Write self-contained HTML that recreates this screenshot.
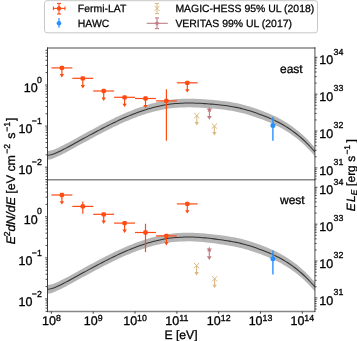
<!DOCTYPE html><html><head><meta charset="utf-8"><style>
html,body{margin:0;padding:0;background:#fff;width:357px;height:341px;overflow:hidden}
svg{display:block;font-family:"Liberation Sans",sans-serif;will-change:transform;-webkit-font-smoothing:antialiased;text-rendering:geometricPrecision}
</style></head><body>
<svg width="357" height="341" viewBox="0 0 357 341">
<rect width="357" height="341" fill="#fff"/>
<path d="M47.50,150.95 L49.75,150.80 L51.99,150.28 L54.24,149.48 L56.48,148.51 L58.73,147.46 L60.98,146.37 L63.22,145.24 L65.47,144.08 L67.72,142.89 L69.96,141.68 L72.21,140.46 L74.45,139.22 L76.70,137.98 L78.95,136.74 L81.19,135.50 L83.44,134.27 L85.69,133.04 L87.93,131.81 L90.18,130.59 L92.42,129.38 L94.67,128.17 L96.92,126.98 L99.16,125.79 L101.41,124.62 L103.66,123.45 L105.90,122.31 L108.15,121.17 L110.39,120.06 L112.64,118.95 L114.89,117.87 L117.13,116.81 L119.38,115.76 L121.63,114.74 L123.87,113.74 L126.12,112.76 L128.36,111.81 L130.61,110.88 L132.86,109.98 L135.10,109.11 L137.35,108.26 L139.59,107.44 L141.84,106.66 L144.09,105.91 L146.33,105.18 L148.58,104.50 L150.83,103.85 L153.07,103.23 L155.32,102.65 L157.56,102.11 L159.81,101.61 L162.06,101.15 L164.30,100.73 L166.55,100.35 L168.80,100.02 L171.04,99.73 L173.29,99.48 L175.53,99.27 L177.78,99.10 L180.03,98.96 L182.27,98.85 L184.52,98.78 L186.77,98.74 L189.01,98.73 L191.26,98.74 L193.50,98.78 L195.75,98.85 L198.00,98.93 L200.24,99.04 L202.49,99.17 L204.74,99.31 L206.98,99.47 L209.23,99.64 L211.47,99.82 L213.72,100.02 L215.97,100.22 L218.21,100.45 L220.46,100.69 L222.71,100.94 L224.95,101.23 L227.20,101.53 L229.44,101.87 L231.69,102.24 L233.94,102.64 L236.18,103.07 L238.43,103.55 L240.67,104.07 L242.92,104.63 L245.17,105.24 L247.41,105.88 L249.66,106.57 L251.91,107.29 L254.15,108.03 L256.40,108.80 L258.64,109.59 L260.89,110.41 L263.14,111.25 L265.38,112.13 L267.63,113.04 L269.88,113.99 L272.12,114.98 L274.37,116.02 L276.61,117.11 L278.86,118.26 L281.11,119.46 L283.35,120.73 L285.60,122.07 L287.85,123.48 L290.09,124.97 L292.34,126.53 L294.58,128.18 L296.83,129.92 L299.08,131.75 L301.32,133.68 L303.57,135.70 L305.82,137.84 L308.06,140.08 L310.31,142.44 L312.55,144.93 L314.80,147.40 L314.80,156.00 L312.55,153.53 L310.31,151.04 L308.06,148.68 L305.82,146.44 L303.57,144.30 L301.32,142.28 L299.08,140.35 L296.83,138.52 L294.58,136.78 L292.34,135.13 L290.09,133.57 L287.85,132.08 L285.60,130.67 L283.35,129.33 L281.11,128.06 L278.86,126.86 L276.61,125.71 L274.37,124.62 L272.12,123.58 L269.88,122.59 L267.63,121.64 L265.38,120.73 L263.14,119.85 L260.89,119.01 L258.64,118.19 L256.40,117.40 L254.15,116.63 L251.91,115.89 L249.66,115.17 L247.41,114.48 L245.17,113.84 L242.92,113.23 L240.67,112.67 L238.43,112.15 L236.18,111.67 L233.94,111.24 L231.69,110.84 L229.44,110.47 L227.20,110.13 L224.95,109.83 L222.71,109.54 L220.46,109.29 L218.21,109.05 L215.97,108.82 L213.72,108.62 L211.47,108.42 L209.23,108.24 L206.98,108.07 L204.74,107.91 L202.49,107.77 L200.24,107.64 L198.00,107.53 L195.75,107.45 L193.50,107.38 L191.26,107.34 L189.01,107.33 L186.77,107.34 L184.52,107.38 L182.27,107.45 L180.03,107.56 L177.78,107.70 L175.53,107.87 L173.29,108.08 L171.04,108.33 L168.80,108.62 L166.55,108.95 L164.30,109.33 L162.06,109.75 L159.81,110.21 L157.56,110.71 L155.32,111.25 L153.07,111.83 L150.83,112.45 L148.58,113.10 L146.33,113.78 L144.09,114.51 L141.84,115.26 L139.59,116.04 L137.35,116.86 L135.10,117.71 L132.86,118.58 L130.61,119.48 L128.36,120.41 L126.12,121.36 L123.87,122.34 L121.63,123.34 L119.38,124.36 L117.13,125.41 L114.89,126.47 L112.64,127.55 L110.39,128.66 L108.15,129.77 L105.90,130.91 L103.66,132.05 L101.41,133.22 L99.16,134.39 L96.92,135.58 L94.67,136.77 L92.42,137.98 L90.18,139.19 L87.93,140.41 L85.69,141.64 L83.44,142.87 L81.19,144.10 L78.95,145.34 L76.70,146.58 L74.45,147.82 L72.21,149.06 L69.96,150.28 L67.72,151.49 L65.47,152.68 L63.22,153.84 L60.98,154.97 L58.73,156.06 L56.48,157.11 L54.24,158.08 L51.99,158.88 L49.75,159.40 L47.50,159.55 Z" fill="#b5b5b5"/>
<path d="M47.50,155.25 L49.75,155.10 L51.99,154.58 L54.24,153.78 L56.48,152.81 L58.73,151.76 L60.98,150.67 L63.22,149.54 L65.47,148.38 L67.72,147.19 L69.96,145.98 L72.21,144.76 L74.45,143.52 L76.70,142.28 L78.95,141.04 L81.19,139.80 L83.44,138.57 L85.69,137.34 L87.93,136.11 L90.18,134.89 L92.42,133.68 L94.67,132.47 L96.92,131.28 L99.16,130.09 L101.41,128.92 L103.66,127.75 L105.90,126.61 L108.15,125.47 L110.39,124.36 L112.64,123.25 L114.89,122.17 L117.13,121.11 L119.38,120.06 L121.63,119.04 L123.87,118.04 L126.12,117.06 L128.36,116.11 L130.61,115.18 L132.86,114.28 L135.10,113.41 L137.35,112.56 L139.59,111.74 L141.84,110.96 L144.09,110.21 L146.33,109.48 L148.58,108.80 L150.83,108.15 L153.07,107.53 L155.32,106.95 L157.56,106.41 L159.81,105.91 L162.06,105.45 L164.30,105.03 L166.55,104.65 L168.80,104.32 L171.04,104.03 L173.29,103.78 L175.53,103.57 L177.78,103.40 L180.03,103.26 L182.27,103.15 L184.52,103.08 L186.77,103.04 L189.01,103.03 L191.26,103.04 L193.50,103.08 L195.75,103.15 L198.00,103.23 L200.24,103.34 L202.49,103.47 L204.74,103.61 L206.98,103.77 L209.23,103.94 L211.47,104.12 L213.72,104.32 L215.97,104.52 L218.21,104.75 L220.46,104.99 L222.71,105.24 L224.95,105.53 L227.20,105.83 L229.44,106.17 L231.69,106.54 L233.94,106.94 L236.18,107.37 L238.43,107.85 L240.67,108.37 L242.92,108.93 L245.17,109.54 L247.41,110.18 L249.66,110.87 L251.91,111.59 L254.15,112.33 L256.40,113.10 L258.64,113.89 L260.89,114.71 L263.14,115.55 L265.38,116.43 L267.63,117.34 L269.88,118.29 L272.12,119.28 L274.37,120.32 L276.61,121.41 L278.86,122.56 L281.11,123.76 L283.35,125.03 L285.60,126.37 L287.85,127.78 L290.09,129.27 L292.34,130.83 L294.58,132.48 L296.83,134.22 L299.08,136.05 L301.32,137.98 L303.57,140.00 L305.82,142.14 L308.06,144.38 L310.31,146.74 L312.55,149.23 L314.80,151.70" fill="none" stroke="#333" stroke-width="1.05"/>
<path d="M47.50,284.95 L49.75,284.80 L51.99,284.28 L54.24,283.48 L56.48,282.51 L58.73,281.46 L60.98,280.37 L63.22,279.24 L65.47,278.08 L67.72,276.89 L69.96,275.68 L72.21,274.46 L74.45,273.22 L76.70,271.98 L78.95,270.74 L81.19,269.50 L83.44,268.27 L85.69,267.04 L87.93,265.81 L90.18,264.59 L92.42,263.38 L94.67,262.17 L96.92,260.98 L99.16,259.79 L101.41,258.62 L103.66,257.45 L105.90,256.31 L108.15,255.17 L110.39,254.06 L112.64,252.95 L114.89,251.87 L117.13,250.81 L119.38,249.76 L121.63,248.74 L123.87,247.74 L126.12,246.76 L128.36,245.81 L130.61,244.88 L132.86,243.98 L135.10,243.11 L137.35,242.26 L139.59,241.44 L141.84,240.66 L144.09,239.91 L146.33,239.18 L148.58,238.50 L150.83,237.85 L153.07,237.23 L155.32,236.65 L157.56,236.11 L159.81,235.61 L162.06,235.15 L164.30,234.73 L166.55,234.35 L168.80,234.02 L171.04,233.73 L173.29,233.48 L175.53,233.27 L177.78,233.10 L180.03,232.96 L182.27,232.85 L184.52,232.78 L186.77,232.74 L189.01,232.73 L191.26,232.74 L193.50,232.79 L195.75,232.88 L198.00,232.99 L200.24,233.13 L202.49,233.30 L204.74,233.49 L206.98,233.69 L209.23,233.91 L211.47,234.15 L213.72,234.40 L215.97,234.66 L218.21,234.93 L220.46,235.21 L222.71,235.52 L224.95,235.84 L227.20,236.18 L229.44,236.54 L231.69,236.93 L233.94,237.34 L236.18,237.77 L238.43,238.25 L240.67,238.77 L242.92,239.33 L245.17,239.94 L247.41,240.58 L249.66,241.27 L251.91,241.99 L254.15,242.73 L256.40,243.50 L258.64,244.29 L260.89,245.11 L263.14,245.95 L265.38,246.83 L267.63,247.74 L269.88,248.69 L272.12,249.68 L274.37,250.72 L276.61,251.81 L278.86,252.96 L281.11,254.16 L283.35,255.43 L285.60,256.77 L287.85,258.18 L290.09,259.67 L292.34,261.23 L294.58,262.88 L296.83,264.62 L299.08,266.45 L301.32,268.38 L303.57,270.40 L305.82,272.54 L308.06,274.78 L310.31,277.14 L312.55,279.63 L314.80,282.10 L314.80,291.30 L312.55,288.83 L310.31,286.34 L308.06,283.98 L305.82,281.74 L303.57,279.60 L301.32,277.58 L299.08,275.65 L296.83,273.82 L294.58,272.08 L292.34,270.43 L290.09,268.87 L287.85,267.38 L285.60,265.97 L283.35,264.63 L281.11,263.36 L278.86,262.16 L276.61,261.01 L274.37,259.92 L272.12,258.88 L269.88,257.89 L267.63,256.94 L265.38,256.03 L263.14,255.15 L260.89,254.31 L258.64,253.49 L256.40,252.70 L254.15,251.93 L251.91,251.19 L249.66,250.47 L247.41,249.78 L245.17,249.14 L242.92,248.53 L240.67,247.97 L238.43,247.45 L236.18,246.97 L233.94,246.53 L231.69,246.12 L229.44,245.72 L227.20,245.33 L224.95,244.96 L222.71,244.61 L220.46,244.27 L218.21,243.94 L215.97,243.62 L213.72,243.32 L211.47,243.03 L209.23,242.75 L206.98,242.48 L204.74,242.24 L202.49,242.01 L200.24,241.81 L198.00,241.64 L195.75,241.51 L193.50,241.41 L191.26,241.35 L189.01,241.33 L186.77,241.34 L184.52,241.38 L182.27,241.45 L180.03,241.56 L177.78,241.70 L175.53,241.87 L173.29,242.08 L171.04,242.33 L168.80,242.62 L166.55,242.95 L164.30,243.33 L162.06,243.75 L159.81,244.21 L157.56,244.71 L155.32,245.25 L153.07,245.83 L150.83,246.45 L148.58,247.10 L146.33,247.78 L144.09,248.51 L141.84,249.26 L139.59,250.04 L137.35,250.86 L135.10,251.71 L132.86,252.58 L130.61,253.48 L128.36,254.41 L126.12,255.36 L123.87,256.34 L121.63,257.34 L119.38,258.36 L117.13,259.41 L114.89,260.47 L112.64,261.55 L110.39,262.66 L108.15,263.77 L105.90,264.91 L103.66,266.05 L101.41,267.22 L99.16,268.39 L96.92,269.58 L94.67,270.77 L92.42,271.98 L90.18,273.19 L87.93,274.41 L85.69,275.64 L83.44,276.87 L81.19,278.10 L78.95,279.34 L76.70,280.58 L74.45,281.82 L72.21,283.06 L69.96,284.28 L67.72,285.49 L65.47,286.68 L63.22,287.84 L60.98,288.97 L58.73,290.06 L56.48,291.11 L54.24,292.08 L51.99,292.88 L49.75,293.40 L47.50,293.55 Z" fill="#b5b5b5"/>
<path d="M47.50,289.25 L49.75,289.10 L51.99,288.58 L54.24,287.78 L56.48,286.81 L58.73,285.76 L60.98,284.67 L63.22,283.54 L65.47,282.38 L67.72,281.19 L69.96,279.98 L72.21,278.76 L74.45,277.52 L76.70,276.28 L78.95,275.04 L81.19,273.80 L83.44,272.57 L85.69,271.34 L87.93,270.11 L90.18,268.89 L92.42,267.68 L94.67,266.47 L96.92,265.28 L99.16,264.09 L101.41,262.92 L103.66,261.75 L105.90,260.61 L108.15,259.47 L110.39,258.36 L112.64,257.25 L114.89,256.17 L117.13,255.11 L119.38,254.06 L121.63,253.04 L123.87,252.04 L126.12,251.06 L128.36,250.11 L130.61,249.18 L132.86,248.28 L135.10,247.41 L137.35,246.56 L139.59,245.74 L141.84,244.96 L144.09,244.21 L146.33,243.48 L148.58,242.80 L150.83,242.15 L153.07,241.53 L155.32,240.95 L157.56,240.41 L159.81,239.91 L162.06,239.45 L164.30,239.03 L166.55,238.65 L168.80,238.32 L171.04,238.03 L173.29,237.78 L175.53,237.57 L177.78,237.40 L180.03,237.26 L182.27,237.15 L184.52,237.08 L186.77,237.04 L189.01,237.03 L191.26,237.04 L193.50,237.10 L195.75,237.19 L198.00,237.32 L200.24,237.47 L202.49,237.65 L204.74,237.86 L206.98,238.09 L209.23,238.33 L211.47,238.59 L213.72,238.86 L215.97,239.14 L218.21,239.43 L220.46,239.74 L222.71,240.06 L224.95,240.40 L227.20,240.75 L229.44,241.13 L231.69,241.52 L233.94,241.94 L236.18,242.37 L238.43,242.85 L240.67,243.37 L242.92,243.93 L245.17,244.54 L247.41,245.18 L249.66,245.87 L251.91,246.59 L254.15,247.33 L256.40,248.10 L258.64,248.89 L260.89,249.71 L263.14,250.55 L265.38,251.43 L267.63,252.34 L269.88,253.29 L272.12,254.28 L274.37,255.32 L276.61,256.41 L278.86,257.56 L281.11,258.76 L283.35,260.03 L285.60,261.37 L287.85,262.78 L290.09,264.27 L292.34,265.83 L294.58,267.48 L296.83,269.22 L299.08,271.05 L301.32,272.98 L303.57,275.00 L305.82,277.14 L308.06,279.38 L310.31,281.74 L312.55,284.23 L314.80,286.70" fill="none" stroke="#333" stroke-width="1.05"/>
<line x1="51.4" y1="67.9" x2="72.3" y2="67.9" stroke="#ff4a12" stroke-width="1.2"/><line x1="61.9" y1="67.9" x2="61.9" y2="74.89999999999999" stroke="#ff4a12" stroke-width="1.2"/><path d="M59.70,74.10 L64.10,74.10 L61.90,77.40 Z" fill="#ff4a12"/><rect x="59.70" y="65.75" width="4.4" height="4.3" rx="1.3" fill="#ff4a12"/>
<line x1="72.3" y1="78.3" x2="93.2" y2="78.3" stroke="#ff4a12" stroke-width="1.2"/><line x1="82.8" y1="78.3" x2="82.8" y2="85.89999999999999" stroke="#ff4a12" stroke-width="1.2"/><path d="M80.60,85.10 L85.00,85.10 L82.80,88.40 Z" fill="#ff4a12"/><rect x="80.60" y="76.15" width="4.4" height="4.3" rx="1.3" fill="#ff4a12"/>
<line x1="93.2" y1="91.0" x2="114.1" y2="91.0" stroke="#ff4a12" stroke-width="1.2"/><line x1="103.7" y1="91.0" x2="103.7" y2="98.39999999999999" stroke="#ff4a12" stroke-width="1.2"/><path d="M101.50,97.60 L105.90,97.60 L103.70,100.90 Z" fill="#ff4a12"/><rect x="101.50" y="88.85" width="4.4" height="4.3" rx="1.3" fill="#ff4a12"/>
<line x1="114.1" y1="97.3" x2="135.0" y2="97.3" stroke="#ff4a12" stroke-width="1.2"/><line x1="124.6" y1="97.3" x2="124.6" y2="104.5" stroke="#ff4a12" stroke-width="1.2"/><path d="M122.40,103.70 L126.80,103.70 L124.60,107.00 Z" fill="#ff4a12"/><rect x="122.40" y="95.15" width="4.4" height="4.3" rx="1.3" fill="#ff4a12"/>
<line x1="135.0" y1="98.5" x2="155.9" y2="98.5" stroke="#ff4a12" stroke-width="1.2"/><line x1="145.5" y1="98.5" x2="145.5" y2="105.69999999999999" stroke="#ff4a12" stroke-width="1.2"/><path d="M143.30,104.90 L147.70,104.90 L145.50,108.20 Z" fill="#ff4a12"/><rect x="143.30" y="96.35" width="4.4" height="4.3" rx="1.3" fill="#ff4a12"/>
<line x1="155.9" y1="100.9" x2="176.8" y2="100.9" stroke="#ff4a12" stroke-width="1.2"/><line x1="166.4" y1="89.2" x2="166.4" y2="140.7" stroke="#ff4a12" stroke-width="1.2"/><rect x="164.20" y="98.75" width="4.4" height="4.3" rx="1.3" fill="#ff4a12"/>
<line x1="176.8" y1="82.8" x2="197.7" y2="82.8" stroke="#ff4a12" stroke-width="1.2"/><line x1="187.3" y1="82.8" x2="187.3" y2="90.1" stroke="#ff4a12" stroke-width="1.2"/><path d="M185.10,89.30 L189.50,89.30 L187.30,92.60 Z" fill="#ff4a12"/><rect x="185.10" y="80.65" width="4.4" height="4.3" rx="1.3" fill="#ff4a12"/>
<g stroke="#dab883" stroke-width="1.0"><line x1="194.20000000000002" y1="113.0" x2="199.4" y2="118.19999999999999"/><line x1="194.20000000000002" y1="118.19999999999999" x2="199.4" y2="113.0"/><line x1="196.8" y1="115.6" x2="196.8" y2="123.0" stroke-width="1.1"/></g><path d="M194.60,122.10 L199.00,122.10 L196.80,125.50 Z" fill="#dab883"/>
<g stroke="#dab883" stroke-width="1.0"><line x1="211.8" y1="123.5" x2="217.0" y2="128.7"/><line x1="211.8" y1="128.7" x2="217.0" y2="123.5"/><line x1="214.4" y1="126.1" x2="214.4" y2="133.0" stroke-width="1.1"/></g><path d="M212.20,132.10 L216.60,132.10 L214.40,135.50 Z" fill="#dab883"/>
<line x1="209.4" y1="109.7" x2="209.4" y2="117.3" stroke="#c17c87" stroke-width="1.1"/><path d="M207.00,116.00 L211.80,116.00 L209.40,119.80 Z" fill="#c17c87"/><polygon points="209.40,106.60 210.22,108.57 212.35,108.74 210.73,110.13 211.22,112.21 209.40,111.09 207.58,112.21 208.07,110.13 206.45,108.74 208.58,108.57" fill="#c17c87"/>
<g stroke="#dab883" stroke-width="0.5" stroke-opacity="0.7"><line x1="271.59999999999997" y1="117.3" x2="271.59999999999997" y2="126.1"/><line x1="274.2" y1="117.3" x2="274.2" y2="126.1"/></g><line x1="272.9" y1="117.0" x2="272.9" y2="140.7" stroke="#2a90fc" stroke-width="1.4"/><circle cx="272.9" cy="125.6" r="2.5" fill="#2a90fc"/>
<line x1="51.4" y1="195.0" x2="72.3" y2="195.0" stroke="#ff4a12" stroke-width="1.2"/><line x1="61.9" y1="195.0" x2="61.9" y2="202.1" stroke="#ff4a12" stroke-width="1.2"/><path d="M59.70,201.30 L64.10,201.30 L61.90,204.60 Z" fill="#ff4a12"/><rect x="59.70" y="192.85" width="4.4" height="4.3" rx="1.3" fill="#ff4a12"/>
<line x1="72.3" y1="206.4" x2="93.2" y2="206.4" stroke="#ff4a12" stroke-width="1.2"/><line x1="82.8" y1="201.5" x2="82.8" y2="213.7" stroke="#ff4a12" stroke-width="1.2"/><rect x="80.60" y="204.25" width="4.4" height="4.3" rx="1.3" fill="#ff4a12"/>
<line x1="93.2" y1="214.3" x2="114.1" y2="214.3" stroke="#ff4a12" stroke-width="1.2"/><line x1="103.7" y1="214.3" x2="103.7" y2="221.4" stroke="#ff4a12" stroke-width="1.2"/><path d="M101.50,220.60 L105.90,220.60 L103.70,223.90 Z" fill="#ff4a12"/><rect x="101.50" y="212.15" width="4.4" height="4.3" rx="1.3" fill="#ff4a12"/>
<line x1="114.1" y1="223.1" x2="135.0" y2="223.1" stroke="#ff4a12" stroke-width="1.2"/><line x1="124.6" y1="223.1" x2="124.6" y2="230.4" stroke="#ff4a12" stroke-width="1.2"/><path d="M122.40,229.60 L126.80,229.60 L124.60,232.90 Z" fill="#ff4a12"/><rect x="122.40" y="220.95" width="4.4" height="4.3" rx="1.3" fill="#ff4a12"/>
<line x1="135.0" y1="232.5" x2="155.9" y2="232.5" stroke="#ff4a12" stroke-width="1.2"/><line x1="145.5" y1="223.7" x2="145.5" y2="252.1" stroke="#ff4a12" stroke-width="1.2"/><rect x="143.30" y="230.35" width="4.4" height="4.3" rx="1.3" fill="#ff4a12"/>
<line x1="155.9" y1="235.9" x2="176.8" y2="235.9" stroke="#ff4a12" stroke-width="1.2"/><line x1="166.4" y1="235.9" x2="166.4" y2="242.9" stroke="#ff4a12" stroke-width="1.2"/><path d="M164.20,242.10 L168.60,242.10 L166.40,245.40 Z" fill="#ff4a12"/><rect x="164.20" y="233.75" width="4.4" height="4.3" rx="1.3" fill="#ff4a12"/>
<line x1="176.8" y1="203.9" x2="197.7" y2="203.9" stroke="#ff4a12" stroke-width="1.2"/><line x1="187.3" y1="203.9" x2="187.3" y2="211.0" stroke="#ff4a12" stroke-width="1.2"/><path d="M185.10,210.20 L189.50,210.20 L187.30,213.50 Z" fill="#ff4a12"/><rect x="185.10" y="201.75" width="4.4" height="4.3" rx="1.3" fill="#ff4a12"/>
<g stroke="#dab883" stroke-width="1.0"><line x1="194.0" y1="263.0" x2="199.2" y2="268.20000000000005"/><line x1="194.0" y1="268.20000000000005" x2="199.2" y2="263.0"/><line x1="196.6" y1="265.6" x2="196.6" y2="273.0" stroke-width="1.1"/></g><path d="M194.40,272.10 L198.80,272.10 L196.60,275.50 Z" fill="#dab883"/>
<g stroke="#dab883" stroke-width="1.0"><line x1="212.0" y1="276.2" x2="217.2" y2="281.40000000000003"/><line x1="212.0" y1="281.40000000000003" x2="217.2" y2="276.2"/><line x1="214.6" y1="278.8" x2="214.6" y2="285.6" stroke-width="1.1"/></g><path d="M212.40,284.70 L216.80,284.70 L214.60,288.10 Z" fill="#dab883"/>
<line x1="209.3" y1="249.6" x2="209.3" y2="257.5" stroke="#c17c87" stroke-width="1.1"/><path d="M206.90,256.20 L211.70,256.20 L209.30,260.00 Z" fill="#c17c87"/><polygon points="209.30,246.50 210.12,248.47 212.25,248.64 210.63,250.03 211.12,252.11 209.30,251.00 207.48,252.11 207.97,250.03 206.35,248.64 208.48,248.47" fill="#c17c87"/>
<g stroke="#dab883" stroke-width="0.5" stroke-opacity="0.7"><line x1="271.59999999999997" y1="250.8" x2="271.59999999999997" y2="259.3"/><line x1="274.2" y1="250.8" x2="274.2" y2="259.3"/></g><line x1="272.9" y1="250.5" x2="272.9" y2="274.6" stroke="#2a90fc" stroke-width="1.4"/><circle cx="272.9" cy="258.8" r="2.5" fill="#2a90fc"/>
<g stroke="#000" stroke-opacity="0.47" stroke-width="1.5" fill="none">
<line x1="47.5" y1="48.0" x2="315.3" y2="48.0"/>
<line x1="47.5" y1="179.7" x2="315.3" y2="179.7"/>
<line x1="47.5" y1="311.4" x2="315.3" y2="311.4"/>
<line x1="314.9" y1="47.3" x2="314.9" y2="312.1"/>
</g>
<line x1="47.5" y1="47.3" x2="47.5" y2="312.1" stroke="#3a3a3a" stroke-width="1.0"/>
<g stroke="#333" stroke-width="0.9">
<line x1="45.60" y1="179.57" x2="47.50" y2="179.57"/><line x1="45.60" y1="176.32" x2="47.50" y2="176.32"/><line x1="45.60" y1="173.57" x2="47.50" y2="173.57"/><line x1="45.60" y1="171.18" x2="47.50" y2="171.18"/><line x1="45.60" y1="169.08" x2="47.50" y2="169.08"/><line x1="45.10" y1="167.20" x2="47.50" y2="167.20"/><line x1="45.60" y1="154.83" x2="47.50" y2="154.83"/><line x1="45.60" y1="147.59" x2="47.50" y2="147.59"/><line x1="45.60" y1="142.46" x2="47.50" y2="142.46"/><line x1="45.60" y1="138.47" x2="47.50" y2="138.47"/><line x1="45.60" y1="135.22" x2="47.50" y2="135.22"/><line x1="45.60" y1="132.47" x2="47.50" y2="132.47"/><line x1="45.60" y1="130.08" x2="47.50" y2="130.08"/><line x1="45.60" y1="127.98" x2="47.50" y2="127.98"/><line x1="45.10" y1="126.10" x2="47.50" y2="126.10"/><line x1="45.60" y1="113.73" x2="47.50" y2="113.73"/><line x1="45.60" y1="106.49" x2="47.50" y2="106.49"/><line x1="45.60" y1="101.36" x2="47.50" y2="101.36"/><line x1="45.60" y1="97.37" x2="47.50" y2="97.37"/><line x1="45.60" y1="94.12" x2="47.50" y2="94.12"/><line x1="45.60" y1="91.37" x2="47.50" y2="91.37"/><line x1="45.60" y1="88.98" x2="47.50" y2="88.98"/><line x1="45.60" y1="86.88" x2="47.50" y2="86.88"/><line x1="45.10" y1="85.00" x2="47.50" y2="85.00"/><line x1="45.60" y1="72.63" x2="47.50" y2="72.63"/><line x1="45.60" y1="65.39" x2="47.50" y2="65.39"/><line x1="45.60" y1="60.26" x2="47.50" y2="60.26"/><line x1="45.60" y1="56.27" x2="47.50" y2="56.27"/><line x1="45.60" y1="53.02" x2="47.50" y2="53.02"/><line x1="45.60" y1="50.27" x2="47.50" y2="50.27"/>
<line x1="45.60" y1="311.32" x2="47.50" y2="311.32"/><line x1="45.60" y1="308.07" x2="47.50" y2="308.07"/><line x1="45.60" y1="305.32" x2="47.50" y2="305.32"/><line x1="45.60" y1="302.93" x2="47.50" y2="302.93"/><line x1="45.60" y1="300.83" x2="47.50" y2="300.83"/><line x1="45.10" y1="298.95" x2="47.50" y2="298.95"/><line x1="45.60" y1="286.58" x2="47.50" y2="286.58"/><line x1="45.60" y1="279.34" x2="47.50" y2="279.34"/><line x1="45.60" y1="274.21" x2="47.50" y2="274.21"/><line x1="45.60" y1="270.22" x2="47.50" y2="270.22"/><line x1="45.60" y1="266.97" x2="47.50" y2="266.97"/><line x1="45.60" y1="264.22" x2="47.50" y2="264.22"/><line x1="45.60" y1="261.83" x2="47.50" y2="261.83"/><line x1="45.60" y1="259.73" x2="47.50" y2="259.73"/><line x1="45.10" y1="257.85" x2="47.50" y2="257.85"/><line x1="45.60" y1="245.48" x2="47.50" y2="245.48"/><line x1="45.60" y1="238.24" x2="47.50" y2="238.24"/><line x1="45.60" y1="233.11" x2="47.50" y2="233.11"/><line x1="45.60" y1="229.12" x2="47.50" y2="229.12"/><line x1="45.60" y1="225.87" x2="47.50" y2="225.87"/><line x1="45.60" y1="223.12" x2="47.50" y2="223.12"/><line x1="45.60" y1="220.73" x2="47.50" y2="220.73"/><line x1="45.60" y1="218.63" x2="47.50" y2="218.63"/><line x1="45.10" y1="216.75" x2="47.50" y2="216.75"/><line x1="45.60" y1="204.38" x2="47.50" y2="204.38"/><line x1="45.60" y1="197.14" x2="47.50" y2="197.14"/><line x1="45.60" y1="192.01" x2="47.50" y2="192.01"/><line x1="45.60" y1="188.02" x2="47.50" y2="188.02"/><line x1="45.60" y1="184.77" x2="47.50" y2="184.77"/><line x1="45.60" y1="182.02" x2="47.50" y2="182.02"/><line x1="45.60" y1="179.63" x2="47.50" y2="179.63"/>
<line x1="314.80" y1="179.01" x2="316.60" y2="179.01"/><line x1="314.80" y1="176.09" x2="316.60" y2="176.09"/><line x1="314.80" y1="173.62" x2="316.60" y2="173.62"/><line x1="314.80" y1="171.48" x2="316.60" y2="171.48"/><line x1="314.80" y1="169.60" x2="316.60" y2="169.60"/><line x1="314.80" y1="167.91" x2="317.40" y2="167.91"/><line x1="314.80" y1="156.81" x2="316.60" y2="156.81"/><line x1="314.80" y1="150.32" x2="316.60" y2="150.32"/><line x1="314.80" y1="145.71" x2="316.60" y2="145.71"/><line x1="314.80" y1="142.14" x2="316.60" y2="142.14"/><line x1="314.80" y1="139.22" x2="316.60" y2="139.22"/><line x1="314.80" y1="136.75" x2="316.60" y2="136.75"/><line x1="314.80" y1="134.61" x2="316.60" y2="134.61"/><line x1="314.80" y1="132.73" x2="316.60" y2="132.73"/><line x1="314.80" y1="131.04" x2="317.40" y2="131.04"/><line x1="314.80" y1="119.94" x2="316.60" y2="119.94"/><line x1="314.80" y1="113.45" x2="316.60" y2="113.45"/><line x1="314.80" y1="108.84" x2="316.60" y2="108.84"/><line x1="314.80" y1="105.27" x2="316.60" y2="105.27"/><line x1="314.80" y1="102.35" x2="316.60" y2="102.35"/><line x1="314.80" y1="99.88" x2="316.60" y2="99.88"/><line x1="314.80" y1="97.74" x2="316.60" y2="97.74"/><line x1="314.80" y1="95.86" x2="316.60" y2="95.86"/><line x1="314.80" y1="94.17" x2="317.40" y2="94.17"/><line x1="314.80" y1="83.07" x2="316.60" y2="83.07"/><line x1="314.80" y1="76.58" x2="316.60" y2="76.58"/><line x1="314.80" y1="71.97" x2="316.60" y2="71.97"/><line x1="314.80" y1="68.40" x2="316.60" y2="68.40"/><line x1="314.80" y1="65.48" x2="316.60" y2="65.48"/><line x1="314.80" y1="63.01" x2="316.60" y2="63.01"/><line x1="314.80" y1="60.87" x2="316.60" y2="60.87"/><line x1="314.80" y1="58.99" x2="316.60" y2="58.99"/><line x1="314.80" y1="57.30" x2="317.40" y2="57.30"/>
<line x1="314.80" y1="309.01" x2="316.60" y2="309.01"/><line x1="314.80" y1="306.09" x2="316.60" y2="306.09"/><line x1="314.80" y1="303.62" x2="316.60" y2="303.62"/><line x1="314.80" y1="301.48" x2="316.60" y2="301.48"/><line x1="314.80" y1="299.60" x2="316.60" y2="299.60"/><line x1="314.80" y1="297.91" x2="317.40" y2="297.91"/><line x1="314.80" y1="286.81" x2="316.60" y2="286.81"/><line x1="314.80" y1="280.32" x2="316.60" y2="280.32"/><line x1="314.80" y1="275.71" x2="316.60" y2="275.71"/><line x1="314.80" y1="272.14" x2="316.60" y2="272.14"/><line x1="314.80" y1="269.22" x2="316.60" y2="269.22"/><line x1="314.80" y1="266.75" x2="316.60" y2="266.75"/><line x1="314.80" y1="264.61" x2="316.60" y2="264.61"/><line x1="314.80" y1="262.73" x2="316.60" y2="262.73"/><line x1="314.80" y1="261.04" x2="317.40" y2="261.04"/><line x1="314.80" y1="249.94" x2="316.60" y2="249.94"/><line x1="314.80" y1="243.45" x2="316.60" y2="243.45"/><line x1="314.80" y1="238.84" x2="316.60" y2="238.84"/><line x1="314.80" y1="235.27" x2="316.60" y2="235.27"/><line x1="314.80" y1="232.35" x2="316.60" y2="232.35"/><line x1="314.80" y1="229.88" x2="316.60" y2="229.88"/><line x1="314.80" y1="227.74" x2="316.60" y2="227.74"/><line x1="314.80" y1="225.86" x2="316.60" y2="225.86"/><line x1="314.80" y1="224.17" x2="317.40" y2="224.17"/><line x1="314.80" y1="213.07" x2="316.60" y2="213.07"/><line x1="314.80" y1="206.58" x2="316.60" y2="206.58"/><line x1="314.80" y1="201.97" x2="316.60" y2="201.97"/><line x1="314.80" y1="198.40" x2="316.60" y2="198.40"/><line x1="314.80" y1="195.48" x2="316.60" y2="195.48"/><line x1="314.80" y1="193.01" x2="316.60" y2="193.01"/><line x1="314.80" y1="190.87" x2="316.60" y2="190.87"/><line x1="314.80" y1="188.99" x2="316.60" y2="188.99"/><line x1="314.80" y1="187.30" x2="317.40" y2="187.30"/>
<line x1="51.40" y1="311.4" x2="51.40" y2="313.7"/>
<line x1="93.22" y1="311.4" x2="93.22" y2="313.7"/>
<line x1="135.04" y1="311.4" x2="135.04" y2="313.7"/>
<line x1="176.86" y1="311.4" x2="176.86" y2="313.7"/>
<line x1="218.68" y1="311.4" x2="218.68" y2="313.7"/>
<line x1="260.50" y1="311.4" x2="260.50" y2="313.7"/>
<line x1="302.32" y1="311.4" x2="302.32" y2="313.7"/>
</g>
<g font-size="12.5" fill="#000" stroke="#000" stroke-width="0.3">
<text x="41.9" y="91.80" text-anchor="end"><tspan>10</tspan><tspan dx="-0.6" dy="-9.1" font-size="8.8">0</tspan></text><text x="41.9" y="132.90" text-anchor="end"><tspan>10</tspan><tspan dx="-0.6" dy="-9.1" font-size="8.8">−1</tspan></text><text x="41.9" y="174.00" text-anchor="end"><tspan>10</tspan><tspan dx="-0.6" dy="-9.1" font-size="8.8">−2</tspan></text>
<text x="41.9" y="223.55" text-anchor="end"><tspan>10</tspan><tspan dx="-0.6" dy="-9.1" font-size="8.8">0</tspan></text><text x="41.9" y="264.65" text-anchor="end"><tspan>10</tspan><tspan dx="-0.6" dy="-9.1" font-size="8.8">−1</tspan></text><text x="41.9" y="305.75" text-anchor="end"><tspan>10</tspan><tspan dx="-0.6" dy="-9.1" font-size="8.8">−2</tspan></text>
<text x="319.3" y="64.00"><tspan>10</tspan><tspan dx="0.4" dy="-9.5" font-size="8.8">34</tspan></text><text x="319.3" y="100.87"><tspan>10</tspan><tspan dx="0.4" dy="-9.5" font-size="8.8">33</tspan></text><text x="319.3" y="137.74"><tspan>10</tspan><tspan dx="0.4" dy="-9.5" font-size="8.8">32</tspan></text><text x="319.3" y="174.61"><tspan>10</tspan><tspan dx="0.4" dy="-9.5" font-size="8.8">31</tspan></text>
<text x="319.3" y="194.00"><tspan>10</tspan><tspan dx="0.4" dy="-9.5" font-size="8.8">34</tspan></text><text x="319.3" y="230.87"><tspan>10</tspan><tspan dx="0.4" dy="-9.5" font-size="8.8">33</tspan></text><text x="319.3" y="267.74"><tspan>10</tspan><tspan dx="0.4" dy="-9.5" font-size="8.8">32</tspan></text><text x="319.3" y="304.61"><tspan>10</tspan><tspan dx="0.4" dy="-9.5" font-size="8.8">31</tspan></text>
<text x="51.40" y="325.4" text-anchor="middle"><tspan>10</tspan><tspan dy="-4.6" font-size="8.8">8</tspan></text>
<text x="93.22" y="325.4" text-anchor="middle"><tspan>10</tspan><tspan dy="-4.6" font-size="8.8">9</tspan></text>
<text x="135.04" y="325.4" text-anchor="middle"><tspan>10</tspan><tspan dy="-4.6" font-size="8.8">10</tspan></text>
<text x="176.86" y="325.4" text-anchor="middle"><tspan>10</tspan><tspan dy="-4.6" font-size="8.8">11</tspan></text>
<text x="218.68" y="325.4" text-anchor="middle"><tspan>10</tspan><tspan dy="-4.6" font-size="8.8">12</tspan></text>
<text x="260.50" y="325.4" text-anchor="middle"><tspan>10</tspan><tspan dy="-4.6" font-size="8.8">13</tspan></text>
<text x="302.32" y="325.4" text-anchor="middle"><tspan>10</tspan><tspan dy="-4.6" font-size="8.8">14</tspan></text>
</g>
<text x="280.0" y="72.9" font-size="12.0" stroke="#000" stroke-width="0.3">east</text>
<text x="280.0" y="204.4" font-size="12.0" stroke="#000" stroke-width="0.3">west</text>
<text x="181" y="338.6" font-size="12.2" text-anchor="middle" stroke="#000" stroke-width="0.3">E [eV]</text>
<text transform="translate(15.0,244.3) rotate(-90)" font-size="12.4" stroke="#000" stroke-width="0.3"><tspan font-style="italic">E</tspan><tspan dx="-0.2" dy="-4.6" font-size="8.68">2</tspan><tspan dx="-0.1" dy="4.6" font-style="italic">dN/dE</tspan> [eV cm<tspan dx="1.3" dy="-4.6" font-size="8.68">−</tspan><tspan font-size="8.68">2</tspan><tspan dx="1.6" dy="4.6"> s</tspan><tspan dx="0.8" dy="-4.6" font-size="8.68">−</tspan><tspan font-size="8.68">1</tspan><tspan dx="1.0" dy="4.6">]</tspan></text>
<text transform="translate(354.6,211.2) rotate(-90)" font-size="12.0" stroke="#000" stroke-width="0.3"><tspan font-style="italic">E</tspan><tspan dx="1.2" font-style="italic">L</tspan><tspan dy="2.4" font-size="8.40" font-style="italic">E</tspan><tspan dx="0.5" dy="-2.4"> [erg s</tspan><tspan dx="1.3" dy="-4.8" font-size="8.40">−</tspan><tspan font-size="8.40">1</tspan><tspan dx="2.4" dy="4.8">]</tspan></text>
<rect x="44.5" y="0.7" width="273" height="32.1" rx="2.5" ry="2.5" fill="#fff" stroke="#c8c8c8" stroke-width="1"/>
<g stroke="#ff4a12" stroke-width="1.1"><line x1="53.4" y1="8.4" x2="65" y2="8.4"/><line x1="59" y1="3.4" x2="59" y2="14"/><line x1="53.4" y1="6.6" x2="53.4" y2="10.2"/><line x1="65" y1="6.6" x2="65" y2="10.2"/><line x1="57" y1="3.4" x2="61" y2="3.4"/><line x1="57" y1="14" x2="61" y2="14"/></g><circle cx="59" cy="8.4" r="2.2" fill="#ff4a12"/>
<line x1="59" y1="17.9" x2="59" y2="27.8" stroke="#2a90fc" stroke-width="1.2"/><ellipse cx="59" cy="23.2" rx="2.3" ry="2.3" fill="#2a90fc"/>
<g stroke="#dab883" stroke-width="1.0"><line x1="157" y1="3.4" x2="157" y2="13.7"/><line x1="155" y1="3.4" x2="159" y2="3.4"/><line x1="155" y1="13.7" x2="159" y2="13.7"/><line x1="154.5" y1="5.9" x2="159.5" y2="10.9"/><line x1="154.5" y1="10.9" x2="159.5" y2="5.9"/></g>
<g stroke="#c17c87" stroke-width="1.1"><line x1="146.7" y1="23.3" x2="167.8" y2="23.3"/><line x1="157" y1="17.9" x2="157" y2="28.6"/><line x1="155" y1="17.9" x2="159" y2="17.9"/><line x1="155" y1="28.6" x2="159" y2="28.6"/></g><polygon points="157.00,20.70 157.69,22.35 159.47,22.50 158.11,23.66 158.53,25.40 157.00,24.47 155.47,25.40 155.89,23.66 154.53,22.50 156.31,22.35" fill="#c17c87"/>
<g font-size="10.45" fill="#000" stroke="#000" stroke-width="0.25">
<text x="77.8" y="11.8">Fermi-LAT</text>
<text x="77.8" y="26.5">HAWC</text>
<text x="175.4" y="11.8">MAGIC-HESS 95% UL (2018)</text>
<text x="175.4" y="26.5">VERITAS 99% UL (2017)</text>
</g>
</svg></body></html>
